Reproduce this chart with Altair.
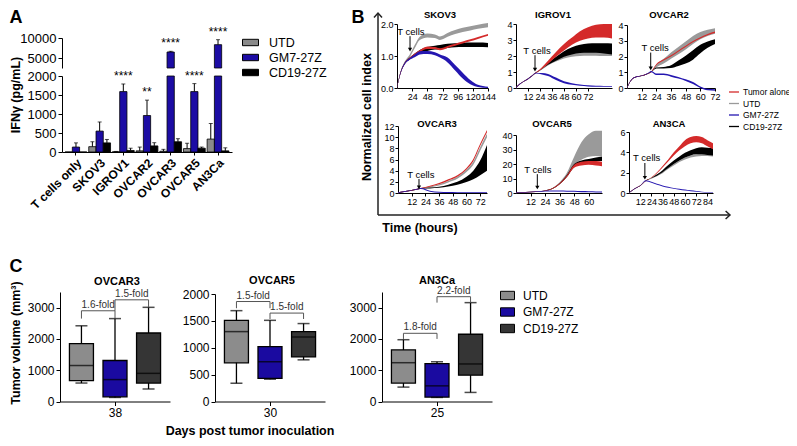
import altair as alt
import pandas as pd

W, H = 781, 430
M = 8
def px(v): return v - M
def py(v): return v - M
FONT = "Liberation Sans"

# ---------------- Panel A : IFN-gamma ----------------
A_GROUPS = ["T cells only", "SKOV3", "IGROV1", "OVCAR2", "OVCAR3", "OVCAR5", "AN3Ca"]
A_SERIES = ["UTD", "GM7-27Z", "CD19-27Z"]
A_COLORS = ["#8a8a8a", "#1c0ca4", "#000000"]
A_UTD = [0, 140, 5, 30, 20, 90, 340]
A_UTD_ERR = [0, 270, 15, 130, 70, 230, 750]
A_GM7 = [130, 550, 1590, 960, 6500, 1590, 8330]
A_GM7_ERR = [240, 790, 1790, 1365, 6670, 1800, 9580]
A_CD19 = [0, 240, 40, 160, 270, 100, 30]
A_CD19_ERR = [0, 330, 100, 245, 350, 130, 110]
A_STARS = ["", "", "****", "**", "****", "****", "****"]

# ---------------- Panel B : impedance curves (lo / hi of each band) ----------------
B_SERIES = ["Tumor alone", "UTD", "GM7-27Z", "CD19-27Z"]
B_COLORS = ["#d42a2a", "#9a9a9a", "#2416b0", "#000000"]
B_DRAW_ORDER = ["UTD", "CD19-27Z", "Tumor alone", "GM7-27Z"]

SKOV3_T = [0, 6, 12, 20, 28, 36, 48, 60, 68, 80, 92, 104, 116, 128, 144]
SKOV3_UTD_LO = [0.00, 0.50, 0.76, 0.96, 1.24, 1.50, 1.58, 1.56, 1.50, 1.60, 1.69, 1.75, 1.80, 1.85, 1.90]
SKOV3_UTD_HI = [0.03, 0.55, 0.82, 1.04, 1.34, 1.60, 1.70, 1.67, 1.61, 1.72, 1.81, 1.88, 1.93, 1.98, 2.03]
SKOV3_RED_LO = [0.00, 0.48, 0.74, 0.90, 1.02, 1.12, 1.22, 1.22, 1.18, 1.25, 1.32, 1.39, 1.46, 1.53, 1.63]
SKOV3_RED_HI = [0.03, 0.52, 0.78, 0.95, 1.08, 1.18, 1.30, 1.28, 1.24, 1.31, 1.38, 1.45, 1.52, 1.59, 1.69]
SKOV3_BLK_LO = [0.00, 0.48, 0.74, 0.89, 1.00, 1.09, 1.16, 1.20, 1.21, 1.25, 1.27, 1.28, 1.28, 1.28, 1.27]
SKOV3_BLK_HI = [0.03, 0.52, 0.78, 0.95, 1.08, 1.19, 1.28, 1.32, 1.34, 1.38, 1.40, 1.41, 1.42, 1.42, 1.41]
SKOV3_GM7_LO = [0.00, 0.48, 0.73, 0.88, 0.96, 1.05, 1.06, 1.02, 0.95, 0.80, 0.55, 0.30, 0.12, 0.03, 0.00]
SKOV3_GM7_HI = [0.03, 0.52, 0.78, 0.94, 1.05, 1.15, 1.16, 1.12, 1.05, 0.95, 0.72, 0.48, 0.25, 0.10, 0.04]

IGROV1_T = [0, 4, 8, 12, 16, 20, 26, 32, 40, 48, 56, 64, 72, 80, 88, 96]
IGROV1_RED_LO = [0, 0.24, 0.40, 0.55, 0.74, 0.93, 1.20, 1.50, 1.95, 2.35, 2.70, 2.95, 3.10, 3.15, 3.15, 3.10]
IGROV1_RED_HI = [0.04, 0.28, 0.44, 0.59, 0.78, 0.98, 1.30, 1.70, 2.25, 2.75, 3.15, 3.55, 3.80, 3.95, 4.00, 4.00]
IGROV1_UTD_LO = [0, 0.24, 0.40, 0.55, 0.74, 0.93, 1.15, 1.40, 1.65, 1.85, 1.95, 2.00, 2.02, 2.02, 2.00, 2.00]
IGROV1_UTD_HI = [0.04, 0.28, 0.44, 0.59, 0.78, 0.98, 1.20, 1.50, 1.80, 2.05, 2.20, 2.30, 2.35, 2.38, 2.35, 2.30]
IGROV1_BLK_LO = [0, 0.24, 0.40, 0.55, 0.74, 0.93, 1.18, 1.45, 1.70, 1.95, 2.10, 2.18, 2.20, 2.20, 2.15, 2.10]
IGROV1_BLK_HI = [0.04, 0.28, 0.44, 0.59, 0.78, 0.98, 1.22, 1.55, 1.95, 2.30, 2.55, 2.70, 2.78, 2.80, 2.80, 2.78]
IGROV1_GM7_LO = [0, 0.24, 0.40, 0.55, 0.74, 0.90, 0.85, 0.75, 0.50, 0.30, 0.20, 0.14, 0.10, 0.08, 0.08, 0.08]
IGROV1_GM7_HI = [0.04, 0.28, 0.44, 0.59, 0.78, 0.96, 0.93, 0.88, 0.65, 0.42, 0.30, 0.22, 0.17, 0.14, 0.13, 0.13]

OVCAR2_T = [0, 4, 8, 12, 16, 20, 24, 30, 36, 42, 48, 54, 60, 66, 72]
OVCAR2_RED_LO = [0, 0.53, 0.70, 0.76, 0.86, 1.02, 1.45, 1.75, 2.00, 2.30, 2.60, 2.90, 3.15, 3.35, 3.50]
OVCAR2_RED_HI = [0.04, 0.57, 0.74, 0.80, 0.90, 1.07, 1.52, 1.82, 2.08, 2.38, 2.68, 2.98, 3.23, 3.43, 3.58]
OVCAR2_UTD_LO = [0, 0.53, 0.70, 0.76, 0.86, 1.02, 1.30, 1.55, 1.85, 2.15, 2.45, 2.80, 3.10, 3.30, 3.45]
OVCAR2_UTD_HI = [0.04, 0.57, 0.74, 0.80, 0.90, 1.07, 1.50, 1.85, 2.25, 2.60, 2.95, 3.30, 3.55, 3.70, 3.80]
OVCAR2_BLK_LO = [0, 0.53, 0.70, 0.76, 0.86, 1.02, 1.24, 1.24, 1.27, 1.40, 1.55, 1.80, 2.20, 2.55, 2.80]
OVCAR2_BLK_HI = [0.04, 0.57, 0.74, 0.80, 0.90, 1.07, 1.30, 1.34, 1.45, 1.75, 2.05, 2.40, 2.75, 2.95, 3.10]
OVCAR2_GM7_LO = [0, 0.53, 0.70, 0.76, 0.86, 1.00, 0.82, 0.82, 0.72, 0.60, 0.45, 0.25, 0.00, -0.15, -0.17]
OVCAR2_GM7_HI = [0.04, 0.57, 0.74, 0.80, 0.90, 1.08, 0.92, 0.92, 0.82, 0.70, 0.55, 0.38, 0.10, -0.05, -0.08]

OVCAR3_T = [0, 8, 16, 20, 28, 36, 44, 52, 60, 66, 72, 78]
OVCAR3_RED_LO = [0, 0.28, 0.58, 0.78, 1.10, 1.55, 2.20, 2.90, 4.20, 5.70, 8.40, 10.9]
OVCAR3_RED_HI = [0.12, 0.40, 0.70, 0.90, 1.30, 1.80, 2.45, 3.20, 4.50, 6.10, 8.80, 11.3]
OVCAR3_UTD_LO = [0, 0.28, 0.58, 0.78, 1.00, 1.35, 1.90, 2.55, 3.75, 5.05, 7.55, 10.0]
OVCAR3_UTD_HI = [0.12, 0.40, 0.70, 0.90, 1.15, 1.55, 2.15, 2.90, 4.20, 5.60, 8.20, 10.6]
OVCAR3_BLK_LO = [0, 0.28, 0.58, 0.78, 0.82, 0.92, 1.15, 1.50, 1.95, 2.45, 3.20, 4.00]
OVCAR3_BLK_HI = [0.12, 0.40, 0.70, 0.90, 0.98, 1.12, 1.50, 2.00, 2.90, 4.00, 5.80, 8.60]
OVCAR3_GM7_LO = [0, 0.28, 0.58, 0.72, 0.22, 0.05, 0.00, 0.00, 0.00, 0.00, 0.00, 0.00]
OVCAR3_GM7_HI = [0.12, 0.40, 0.70, 0.90, 0.42, 0.22, 0.16, 0.14, 0.14, 0.14, 0.14, 0.14]

OVCAR5_T = [0, 8, 16, 24, 30, 36, 42, 48, 54, 60, 66, 71]
OVCAR5_RED_LO = [0, 0.3, 0.7, 1.3, 2.8, 6.0, 11.0, 17.5, 19.0, 19.5, 19.0, 18.5]
OVCAR5_RED_HI = [0.4, 0.7, 1.1, 1.8, 3.3, 6.8, 12.0, 19.5, 21.5, 22.0, 22.0, 21.5]
OVCAR5_UTD_LO = [0, 0.3, 0.7, 1.3, 2.8, 6.0, 11.5, 19.5, 23.0, 25.0, 25.5, 25.0]
OVCAR5_UTD_HI = [0.4, 0.7, 1.1, 1.8, 3.5, 7.5, 14.0, 25.0, 35.0, 40.5, 43.0, 43.0]
OVCAR5_BLK_LO = [0, 0.3, 0.7, 1.3, 2.8, 6.0, 11.0, 18.0, 20.5, 21.5, 22.0, 22.0]
OVCAR5_BLK_HI = [0.4, 0.7, 1.1, 1.8, 3.3, 6.8, 12.5, 20.0, 22.5, 23.5, 24.5, 25.0]
OVCAR5_GM7_LO = [0, 0.3, 0.7, 1.0, 1.0, 1.0, 0.9, 0.8, 0.6, 0.5, 0.4, 0.3]
OVCAR5_GM7_HI = [0.4, 0.7, 1.1, 1.6, 1.7, 1.7, 1.6, 1.5, 1.3, 1.2, 1.1, 1.0]

AN3CA_T = [0, 6, 12, 18, 24, 30, 36, 42, 48, 54, 60, 66, 72, 78, 84, 90]
AN3CA_RED_LO = [0, 0.40, 0.70, 1.18, 1.50, 1.95, 2.50, 3.10, 3.70, 4.20, 4.60, 4.90, 5.00, 4.90, 4.60, 4.30]
AN3CA_RED_HI = [0.05, 0.45, 0.75, 1.24, 1.56, 2.05, 2.65, 3.30, 4.00, 4.60, 5.20, 5.50, 5.60, 5.50, 5.20, 4.90]
AN3CA_UTD_LO = [0, 0.40, 0.70, 1.18, 1.40, 1.65, 1.95, 2.35, 2.70, 3.05, 3.30, 3.50, 3.60, 3.65, 3.65, 3.60]
AN3CA_UTD_HI = [0.05, 0.45, 0.75, 1.24, 1.45, 1.75, 2.10, 2.50, 2.85, 3.20, 3.50, 3.70, 3.80, 3.85, 3.85, 3.80]
AN3CA_BLK_LO = [0, 0.40, 0.70, 1.18, 1.45, 1.70, 2.05, 2.45, 2.85, 3.20, 3.50, 3.70, 3.80, 3.80, 3.75, 3.70]
AN3CA_BLK_HI = [0.05, 0.45, 0.75, 1.24, 1.50, 1.85, 2.25, 2.75, 3.20, 3.60, 3.95, 4.20, 4.40, 4.50, 4.45, 4.40]
AN3CA_GM7_LO = [0, 0.40, 0.70, 1.15, 1.00, 0.80, 0.65, 0.52, 0.42, 0.33, 0.25, 0.18, 0.12, 0.07, 0.03, 0.00]
AN3CA_GM7_HI = [0.05, 0.45, 0.75, 1.25, 1.10, 0.90, 0.75, 0.62, 0.50, 0.42, 0.34, 0.26, 0.19, 0.13, 0.08, 0.05]

# time of T-cell addition (hours) per cell line
B_TCELL_TIME = {"SKOV3": 20.6, "IGROV1": 19, "OVCAR2": 19.4, "OVCAR3": 18.4, "OVCAR5": 17.6, "AN3CA": 17}

# ---------------- Panel C : tumour volume boxes [min, q1, median, q3, max] ----------------
C_SERIES = ["UTD", "GM7-27Z", "CD19-27Z"]
C_COLORS = ["#8c8c8c", "#1a0aa0", "#353535"]
C_DAYS = [38, 30, 25]
OVCAR3_UTD_BOX = [590, 670, 1150, 1850, 2420]
OVCAR3_GM7_BOX = [130, 150, 700, 1310, 2650]
OVCAR3_CD19_BOX = [400, 590, 900, 2190, 3010]
OVCAR5_UTD_BOX = [340, 720, 1300, 1510, 1690]
OVCAR5_GM7_BOX = [415, 430, 740, 1020, 1510]
OVCAR5_CD19_BOX = [775, 830, 1200, 1300, 1450]
AN3CA_UTD_BOX = [460, 590, 1240, 1650, 1975]
AN3CA_GM7_BOX = [130, 140, 500, 1210, 1270]
AN3CA_CD19_BOX = [290, 840, 1200, 2150, 3160]
# brackets: (left group, right group, bracket level, left end, right end, label)
OVCAR3_FOLD = [(0, 1, 2900, 2650, 2650, "1.6-fold"), (1, 2, 3250, 2900, 3010, "1.5-fold")]
OVCAR5_FOLD = [(0, 1, 1860, 1735, 1735, "1.5-fold"), (1, 2, 1645, 1535, 1535, "1.5-fold")]
AN3CA_FOLD = [(0, 1, 2180, 2000, 2000, "1.8-fold"), (1, 2, 3350, 3160, 3160, "2.2-fold")]

ONE = pd.DataFrame({"k": [0]})

def txt(s, x, y, size, bold=True, angle=0, align="center", baseline="middle", color="black"):
    return alt.Chart(ONE).mark_text(text=s, fontSize=size, fontWeight="bold" if bold else "normal",
                                    angle=angle, align=align, baseline=baseline, font=FONT, color=color
                                    ).encode(x=alt.value(px(x)), y=alt.value(py(y)))

# ================= Panel A =================
rows = []
for i, g in enumerate(A_GROUPS):
    for s, vals, errs in zip(A_SERIES, [A_UTD, A_GM7, A_CD19], [A_UTD_ERR, A_GM7_ERR, A_CD19_ERR]):
        rows.append({"group": g, "series": s, "value": vals[i], "err": errs[i],
                     "stars": A_STARS[i] if s == "GM7-27Z" else ""})
df_a = pd.DataFrame(rows)

def a_x(axis):
    return alt.X("group:N", sort=A_GROUPS, axis=axis,
                 scale=alt.Scale(domain=A_GROUPS, range=[px(62), px(232)], paddingInner=0.08, paddingOuter=0.13))
def a_xoff():
    return alt.XOffset("series:N", sort=A_SERIES, scale=alt.Scale(domain=A_SERIES))

a_color_bot = alt.Color("series:N", scale=alt.Scale(domain=A_SERIES, range=A_COLORS),
                        legend=alt.Legend(orient="none", legendX=px(242), legendY=py(34), title=None,
                                          symbolType="M-1,-0.4H1V0.4H-1Z", symbolSize=256,
                                          symbolStrokeColor="black", symbolStrokeWidth=1,
                                          labelFontSize=12.5, labelOffset=10, rowPadding=0, padding=0,
                                          labelFont=FONT))
ys_bot = alt.Scale(domain=[0, 2000], range=[py(152), py(76)], clamp=True, nice=False, zero=True)
ax_bot_y = alt.Axis(orient="left", offset=-px(62), values=[0, 500, 1000, 1500, 2000], title=None, format="d",
                    labelFontSize=13, tickSize=4, grid=False)
ax_bot_x = alt.Axis(orient="bottom", offset=py(152) - H, title=None, labelAngle=-45, labelFontSize=12,
                    labelFontWeight="bold", tickSize=3, labelPadding=2, grid=False)
baseA = alt.Chart(df_a)
a_bottom = alt.layer(
    baseA.mark_bar(stroke="black", strokeWidth=0.8).encode(
        x=a_x(ax_bot_x), xOffset=a_xoff(), y=alt.Y("value:Q", scale=ys_bot, axis=ax_bot_y), color=a_color_bot),
    baseA.transform_filter("datum.err > datum.value && datum.value < 2000").mark_rule(color="black", strokeWidth=1).encode(
        x=a_x(ax_bot_x), xOffset=a_xoff(), y=alt.Y("value:Q", scale=ys_bot, axis=ax_bot_y), y2="err:Q"),
    baseA.transform_filter("datum.err > datum.value && datum.value < 2000").mark_tick(
        orient="horizontal", size=4, thickness=1, color="black").encode(
        x=a_x(ax_bot_x), xOffset=a_xoff(), y=alt.Y("err:Q", scale=ys_bot, axis=ax_bot_y)),
    baseA.transform_filter("datum.stars != '' && datum.value < 2000").mark_text(
        baseline="bottom", dy=-1, fontSize=12, font=FONT, color="black").encode(
        x=a_x(ax_bot_x), xOffset=a_xoff(), y=alt.Y("err:Q", scale=ys_bot, axis=ax_bot_y), text="stars:N"),
)

ys_top = alt.Scale(domain=[2500, 10000], range=[py(68), py(38)], nice=False, zero=False)
ax_top_y = alt.Axis(orient="left", offset=-px(62), values=[5000, 10000], title=None, format="d",
                    labelFontSize=13, tickSize=4, grid=False)
a_color_top = alt.Color("series:N", scale=alt.Scale(domain=A_SERIES, range=A_COLORS), legend=None)
topA = baseA.transform_filter("datum.value > 2500")
a_top = alt.layer(
    topA.mark_bar(stroke="black", strokeWidth=0.8).encode(
        x=a_x(None), xOffset=a_xoff(), y=alt.Y("value:Q", scale=ys_top, axis=ax_top_y),
        y2=alt.datum(2500), color=a_color_top),
    topA.mark_rule(color="black", strokeWidth=1).encode(
        x=a_x(None), xOffset=a_xoff(), y=alt.Y("value:Q", scale=ys_top, axis=ax_top_y), y2="err:Q"),
    topA.mark_tick(orient="horizontal", size=4, thickness=1, color="black").encode(
        x=a_x(None), xOffset=a_xoff(), y=alt.Y("err:Q", scale=ys_top, axis=ax_top_y)),
    topA.mark_text(baseline="bottom", dy=-1, fontSize=12, font=FONT, color="black").encode(
        x=a_x(None), xOffset=a_xoff(), y=alt.Y("err:Q", scale=ys_top, axis=ax_top_y), text="stars:N"),
)

# ================= Panel B =================
B_DATA = {
    "SKOV3": (SKOV3_T, {"Tumor alone": (SKOV3_RED_LO, SKOV3_RED_HI), "UTD": (SKOV3_UTD_LO, SKOV3_UTD_HI),
                        "GM7-27Z": (SKOV3_GM7_LO, SKOV3_GM7_HI), "CD19-27Z": (SKOV3_BLK_LO, SKOV3_BLK_HI)}),
    "IGROV1": (IGROV1_T, {"Tumor alone": (IGROV1_RED_LO, IGROV1_RED_HI), "UTD": (IGROV1_UTD_LO, IGROV1_UTD_HI),
                          "GM7-27Z": (IGROV1_GM7_LO, IGROV1_GM7_HI), "CD19-27Z": (IGROV1_BLK_LO, IGROV1_BLK_HI)}),
    "OVCAR2": (OVCAR2_T, {"Tumor alone": (OVCAR2_RED_LO, OVCAR2_RED_HI), "UTD": (OVCAR2_UTD_LO, OVCAR2_UTD_HI),
                          "GM7-27Z": (OVCAR2_GM7_LO, OVCAR2_GM7_HI), "CD19-27Z": (OVCAR2_BLK_LO, OVCAR2_BLK_HI)}),
    "OVCAR3": (OVCAR3_T, {"Tumor alone": (OVCAR3_RED_LO, OVCAR3_RED_HI), "UTD": (OVCAR3_UTD_LO, OVCAR3_UTD_HI),
                          "GM7-27Z": (OVCAR3_GM7_LO, OVCAR3_GM7_HI), "CD19-27Z": (OVCAR3_BLK_LO, OVCAR3_BLK_HI)}),
    "OVCAR5": (OVCAR5_T, {"Tumor alone": (OVCAR5_RED_LO, OVCAR5_RED_HI), "UTD": (OVCAR5_UTD_LO, OVCAR5_UTD_HI),
                          "GM7-27Z": (OVCAR5_GM7_LO, OVCAR5_GM7_HI), "CD19-27Z": (OVCAR5_BLK_LO, OVCAR5_BLK_HI)}),
    "AN3CA": (AN3CA_T, {"Tumor alone": (AN3CA_RED_LO, AN3CA_RED_HI), "UTD": (AN3CA_UTD_LO, AN3CA_UTD_HI),
                        "GM7-27Z": (AN3CA_GM7_LO, AN3CA_GM7_HI), "CD19-27Z": (AN3CA_BLK_LO, AN3CA_BLK_HI)}),
}
# layout of each small panel (pixel placement, axis ticks, annotation placement)
B_LAYOUT = {
    "SKOV3": dict(xr=(397, 488), yr=(88, 24), xdom=[0, 144], ydom=[0, 2], xt=[24, 48, 72, 96, 120, 144],
                  yt=[0, 1, 2], title=(440, 15), txt=(22, 1.76), arr=(1.62, 1.2)),
    "IGROV1": dict(xr=(516, 612), yr=(88, 24), xdom=[0, 96], ydom=[0, 4], xt=[12, 24, 36, 48, 60, 72],
                   yt=[0, 1, 2, 3, 4], title=(553, 15), txt=(21, 2.3), arr=(2.05, 1.15)),
    "OVCAR2": dict(xr=(627, 715), yr=(88, 25), xdom=[0, 72], ydom=[0, 4], xt=[12, 24, 36, 48, 60, 72],
                   yt=[0, 1, 2, 3, 4], title=(669, 15), txt=(23, 2.52), arr=(2.25, 1.25)),
    "OVCAR3": dict(xr=(398, 487), yr=(193, 126), xdom=[0, 78], ydom=[0, 12], xt=[12, 24, 36, 48, 60, 72],
                   yt=[0, 2, 4, 6, 8, 10, 12], title=(437, 124), txt=(20, 3.3), arr=(2.5, 1.0)),
    "OVCAR5": dict(xr=(516, 602), yr=(193, 135), xdom=[0, 71], ydom=[0, 40], xt=[12, 24, 36, 48, 60],
                   yt=[0, 10, 20, 30, 40], title=(552, 124), txt=(18, 16), arr=(13, 3.8)),
    "AN3CA": dict(xr=(629, 713), yr=(193, 132), xdom=[0, 90], ydom=[0, 6], xt=[12, 24, 36, 48, 60, 72, 84],
                  yt=[0, 2, 4, 6], title=(669, 124), txt=(19, 3.45), arr=(2.95, 1.5)),
}

def b_subplot(name, legend):
    T, ser = B_DATA[name]
    lay = B_LAYOUT[name]
    xs = alt.Scale(domain=lay["xdom"], range=[px(lay["xr"][0]), px(lay["xr"][1])], nice=False, zero=False)
    ys = alt.Scale(domain=lay["ydom"], range=[py(lay["yr"][0]), py(lay["yr"][1])], nice=False, zero=False)
    xax = alt.Axis(orient="bottom", offset=py(lay["yr"][0]) - H, values=lay["xt"], title=None, labelFontSize=9,
                   tickSize=3, labelPadding=1, labelOverlap=False, labelFlush=False, grid=False)
    yax = alt.Axis(orient="left", offset=-px(lay["xr"][0]), values=lay["yt"], title=None, labelFontSize=9,
                   tickSize=3, labelPadding=1, labelOverlap=False, labelFlush=False, grid=False)
    cs = alt.Scale(domain=B_SERIES, range=B_COLORS)
    layers = []
    for s in B_DRAW_ORDER:
        lo, hi = ser[s]
        df = pd.DataFrame({"t": T, "lo": lo, "hi": hi, "series": s})
        layers.append(alt.Chart(df).mark_area(interpolate="monotone", opacity=1).encode(
            x=alt.X("t:Q", scale=xs, axis=xax),
            y=alt.Y("lo:Q", scale=ys, axis=yax, stack=None),
            y2="hi:Q",
            color=alt.Color("series:N", scale=cs, legend=legend)))
    ann = pd.DataFrame({"tt": [lay["txt"][0]], "ty": [lay["txt"][1]], "ta": [B_TCELL_TIME[name]],
                        "y0": [lay["arr"][0]], "y1": [lay["arr"][1]]})
    layers.append(alt.Chart(ann).mark_text(text="T cells", fontSize=9.5, font=FONT, color="black").encode(
        x=alt.X("tt:Q", scale=xs, axis=xax), y=alt.Y("ty:Q", scale=ys, axis=yax)))
    layers.append(alt.Chart(ann).mark_rule(color="black", strokeWidth=1).encode(
        x=alt.X("ta:Q", scale=xs, axis=xax), y=alt.Y("y0:Q", scale=ys, axis=yax), y2="y1:Q"))
    layers.append(alt.Chart(ann).mark_point(shape="triangle-down", size=18, filled=True, color="black", opacity=1).encode(
        x=alt.X("ta:Q", scale=xs, axis=xax), y=alt.Y("y1:Q", scale=ys, axis=yax)))
    layers.append(txt(name, lay["title"][0], lay["title"][1], 9.5))
    return alt.layer(*layers)

b_legend = alt.Legend(orient="none", legendX=px(729), legendY=py(87), title=None,
                      symbolType="M-1,-0.13H1V0.13H-1Z", symbolSize=100, symbolStrokeWidth=0,
                      labelFontSize=8.5, labelOffset=4, rowPadding=1.5, padding=0, labelFont=FONT)
b_charts = [b_subplot(n, b_legend if n == "OVCAR2" else None) for n in B_LAYOUT]

# ================= Panel C =================
C_DATA = {
    "OVCAR3": ([OVCAR3_UTD_BOX, OVCAR3_GM7_BOX, OVCAR3_CD19_BOX], OVCAR3_FOLD, C_DAYS[0]),
    "OVCAR5": ([OVCAR5_UTD_BOX, OVCAR5_GM7_BOX, OVCAR5_CD19_BOX], OVCAR5_FOLD, C_DAYS[1]),
    "AN3Ca": ([AN3CA_UTD_BOX, AN3CA_GM7_BOX, AN3CA_CD19_BOX], AN3CA_FOLD, C_DAYS[2]),
}
C_LAYOUT = {
    "OVCAR3": dict(ax=60, ydom=[0, 3500], ytop=292, yt=[0, 1000, 2000, 3000], title=(117, 282)),
    "OVCAR5": dict(ax=215, ydom=[0, 2000], ytop=294, yt=[0, 500, 1000, 1500, 2000], title=(272, 281)),
    "AN3Ca": dict(ax=382, ydom=[0, 3500], ytop=292, yt=[0, 1000, 2000, 3000], title=(437, 281)),
}
C_Y0 = 401.5

def c_subplot(name, legend):
    boxes, folds, day = C_DATA[name]
    lay = C_LAYOUT[name]
    df = pd.DataFrame({"series": C_SERIES, "pos": [0, 1, 2],
                       "mn": [b[0] for b in boxes], "q1": [b[1] for b in boxes], "med": [b[2] for b in boxes],
                       "q3": [b[3] for b in boxes], "mx": [b[4] for b in boxes]})
    dfb = pd.DataFrame(folds, columns=["l", "r", "lev", "le", "re", "label"])
    xs = alt.Scale(domain=[-0.49, 2.49], range=[px(lay["ax"]), px(lay["ax"] + 110)], nice=False, zero=False)
    ys = alt.Scale(domain=lay["ydom"], range=[py(C_Y0), py(lay["ytop"])], nice=False, zero=False)
    xax = alt.Axis(orient="bottom", offset=py(C_Y0) - H, values=[1], labelExpr=f"'{day}'", title=None,
                   labelFontSize=12, tickSize=4, labelFlush=False, grid=False)
    yax = alt.Axis(orient="left", offset=-px(lay["ax"]), values=lay["yt"], title=None, labelFontSize=12,
                   format="d", tickSize=4, labelOverlap=False, labelFlush=False, grid=False)
    X = lambda f: alt.X(f, scale=xs, axis=xax)
    Y = lambda f: alt.Y(f, scale=ys, axis=yax)
    base = alt.Chart(df)
    bb = alt.Chart(dfb)
    layers = [
        base.mark_rule(color="black", strokeWidth=1.3).encode(x=X("pos:Q"), y=Y("mn:Q"), y2="mx:Q"),
        base.mark_bar(size=24, stroke="black", strokeWidth=1.3).encode(
            x=X("pos:Q"), y=Y("q1:Q"), y2="q3:Q",
            color=alt.Color("series:N", scale=alt.Scale(domain=C_SERIES, range=C_COLORS), legend=legend)),
        base.mark_tick(orient="horizontal", size=24, thickness=1.5, color="black").encode(x=X("pos:Q"), y=Y("med:Q")),
        base.mark_tick(orient="horizontal", size=12, thickness=1.5, color="black").encode(x=X("pos:Q"), y=Y("mn:Q")),
        base.mark_tick(orient="horizontal", size=12, thickness=1.5, color="black").encode(x=X("pos:Q"), y=Y("mx:Q")),
        bb.mark_rule(color="#555555", strokeWidth=1).encode(x=X("l:Q"), x2="r:Q", y=Y("lev:Q")),
        bb.mark_rule(color="#555555", strokeWidth=1).encode(x=X("l:Q"), y=Y("lev:Q"), y2="le:Q"),
        bb.mark_rule(color="#555555", strokeWidth=1).encode(x=X("r:Q"), y=Y("lev:Q"), y2="re:Q"),
        bb.transform_calculate(mid="(datum.l + datum.r) / 2").mark_text(
            baseline="bottom", dy=-1, fontSize=10, font=FONT, color="#333333").encode(
            x=X("mid:Q"), y=Y("lev:Q"), text="label:N"),
        txt(name, lay["title"][0], lay["title"][1], 11),
    ]
    return alt.layer(*layers)

c_legend = alt.Legend(orient="none", legendX=px(500), legendY=py(288), title=None,
                      symbolType="M-1,-0.6H1V0.6H-1Z", symbolSize=196, symbolStrokeColor="black",
                      symbolStrokeWidth=1, labelFontSize=12, labelOffset=8, rowPadding=2.5, padding=0,
                      labelFont=FONT)
c_charts = [c_subplot(n, c_legend if n == "AN3Ca" else None) for n in C_LAYOUT]

# ================= decorations (letters, shared titles, arrows) =================
deco = [
    txt("A", 16, 18, 18), txt("B", 358, 18, 18), txt("C", 16, 267, 18),
    txt("IFNγ (pg/mL)", 16, 95, 12.5, angle=270),
    txt("Normalized cell index", 367, 117, 12.5, angle=270),
    txt("Time (hours)", 420, 228, 12.5),
    txt("Tumor volume (mm³)", 16, 343, 12.5, angle=270),
    txt("Days post tumor inoculation", 250, 431, 12.5),
    alt.Chart(ONE).mark_rule(color="#222222", strokeWidth=1.5).encode(
        x=alt.value(px(378)), y=alt.value(py(13)), y2=alt.value(py(215))),
    alt.Chart(ONE).mark_rule(color="#222222", strokeWidth=1.5).encode(
        x=alt.value(px(378)), x2=alt.value(px(730)), y=alt.value(py(215))),
    alt.Chart(ONE).mark_point(shape="M-1,1.1L0,0L1,1.1", size=64, filled=False, strokeWidth=1.5,
                              color="#222222", opacity=1).encode(x=alt.value(px(378)), y=alt.value(py(13))),
    alt.Chart(ONE).mark_point(shape="M-1.1,-1L0,0L-1.1,1", size=64, filled=False, strokeWidth=1.5,
                              color="#222222", opacity=1).encode(x=alt.value(px(730)), y=alt.value(py(215))),
]

chart = alt.layer(a_bottom, a_top, *b_charts, *c_charts, *deco).resolve_scale(
    x="independent", y="independent", color="independent", xOffset="independent"
).properties(width=W, height=H, autosize="none", padding=0).configure_axis(
    grid=False, labelFont=FONT, titleFont=FONT, domainColor="black", tickColor="black", labelColor="black",
    domainWidth=1, tickWidth=1
).configure_view(strokeWidth=0).configure_text(font=FONT)

chart.save("out.html", embed_options={"renderer": "svg", "actions": False})
